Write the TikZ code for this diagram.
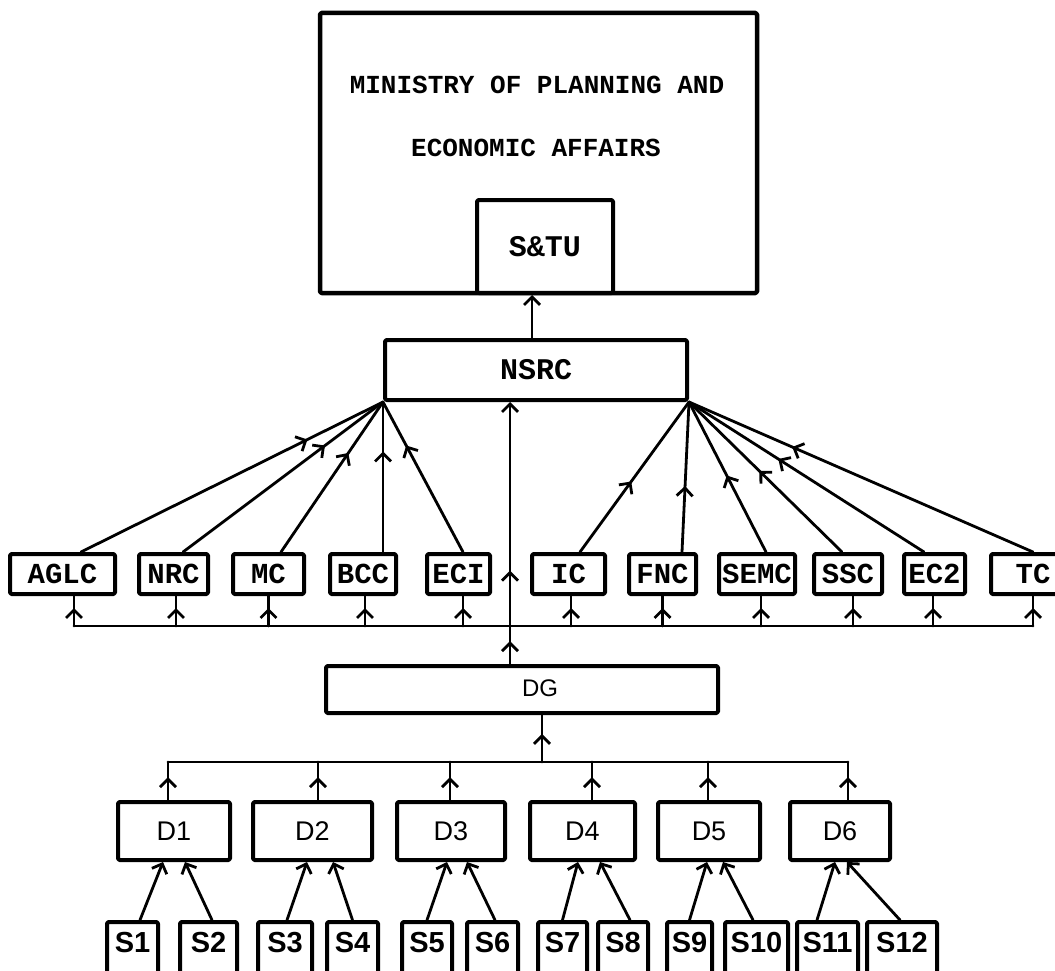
\documentclass[tikz,border=0pt]{standalone}
\usepackage{fontspec}
\setmonofont{Liberation Mono}
\newfontfamily\sansf{Liberation Sans}
\usetikzlibrary{arrows.meta,decorations.markings,calc}
\tikzset{
  >={Straight Barb[length=8pt,width=16pt]},
  box/.style={draw, line width=4pt, rounded corners=1.5pt, inner sep=0pt, line join=round},
  cbox/.style={box, minimum height=40pt, font=\ttfamily\bfseries\fontsize{29}{30}\selectfont},
  dbox/.style={box, minimum height=58pt, font=\sansf\fontsize{27}{28}\selectfont},
  sbox/.style={box, minimum height=70pt},
  stxt/.style={inner sep=0pt, font=\sansf\bfseries\fontsize{29}{30}\selectfont},
  mtxt/.style={inner sep=0pt, font=\ttfamily\bfseries\fontsize{26}{28}\selectfont},
  conn/.style={line width=2.8pt, line cap=round},
  midarr/.style={postaction={decorate,decoration={markings,mark=at position #1 with {\arrow{>}}}}}
}
\begin{document}
\begin{tikzpicture}[x=1pt,y=-1pt]
\useasboundingbox (0,0) rectangle (1055,971);
\clip (0,0) rectangle (1055,971);
% top
\node[box, line width=4.5pt, minimum width=437pt, minimum height=280pt] (min) at (538.5,153) {};
\node[mtxt] (m1) at (537,85) {MINISTRY OF PLANNING AND};
\node[mtxt] (m2) at (536,148) {ECONOMIC AFFAIRS};
\node[box, minimum width=136pt, minimum height=93pt, font=\ttfamily\bfseries\fontsize{30}{32}\selectfont] (stu) at (545,246.5) {S\&TU};
\node[box, minimum width=302pt, minimum height=60pt, font=\ttfamily\bfseries\fontsize{30}{32}\selectfont] (nsrc) at (536,370) {\raisebox{-5pt}{NSRC}};
\draw[conn,->] ([xshift=-4pt]nsrc.north) -- ([xshift=-4pt]nsrc.north |- stu.south);
% committees
\node[cbox, minimum width=105pt] (aglc) at (62.5,574) {AGLC};
\node[cbox, minimum width=69pt] (nrc) at (173.5,574) {NRC};
\node[cbox, minimum width=71pt] (mc) at (268.5,574) {MC};
\node[cbox, minimum width=66pt] (bcc) at (363,574) {BCC};
\node[cbox, minimum width=63pt] (eci) at (458.5,574) {ECI};
\node[cbox, minimum width=73pt] (ic) at (568.5,574) {IC};
\node[cbox, minimum width=67pt] (fnc) at (662.5,574) {FNC};
\node[cbox, minimum width=76pt] (semc) at (757,574) {SEMC};
\node[cbox, minimum width=68pt] (ssc) at (848,574) {SSC};
\node[cbox, minimum width=61pt] (ec2) at (934.5,574) {EC2};
\node[cbox, minimum width=84pt] (tc) at (1033,574) {TC};
% fans
\draw[conn,midarr=0.75] ([xshift=18.5pt]aglc.north) -- (nsrc.south west);
\draw[conn,midarr=0.71] ([xshift=9.5pt]nrc.north) -- (nsrc.south west);
\draw[conn,midarr=0.66] ([xshift=12.5pt]mc.north) -- (nsrc.south west);
\draw[conn,midarr=0.67] ([xshift=20pt]bcc.north) -- (nsrc.south west);
\draw[conn,midarr=0.71] ([xshift=4.5pt]eci.north) -- (nsrc.south west);
\draw[conn,midarr=0.47] ([xshift=11.5pt]ic.north) -- (nsrc.south east);
\draw[conn,midarr=0.44] ([xshift=19.5pt]fnc.north) -- (nsrc.south east);
\draw[conn,midarr=0.51] ([xshift=9pt]semc.north) -- (nsrc.south east);
\draw[conn,midarr=0.54] ([xshift=-6pt]ssc.north) -- (nsrc.south east);
\draw[conn,midarr=0.62] ([xshift=-10.5pt]ec2.north) -- (nsrc.south east);
\draw[conn,midarr=0.70] ([xshift=0pt]tc.north) -- (nsrc.south east);
% DG
\node[box, minimum width=392pt, minimum height=47pt, font=\sansf\fontsize{24}{25}\selectfont] (dg) at (522,689.5) {\hspace*{36pt}\raisebox{3pt}{DG}};
\coordinate (cbus) at (510,626);
\draw[conn,->,postaction={decorate,decoration={markings,
   mark=at position 0.087 with {\arrow{>}},
   mark=at position 0.356 with {\arrow{>}}}}]
   ([xshift=-12pt]dg.north) -- ([xshift=-12pt]dg.north |- nsrc.south);
\draw[conn] ([xshift=11.5pt]aglc.south |- cbus) -- (tc.south |- cbus);
\draw[conn,midarr=0.6] ([xshift=11.5pt]aglc.south |- cbus) -- ([xshift=11.5pt]aglc.south);
\draw[conn,midarr=0.6] ([xshift=2.5pt]nrc.south |- cbus) -- ([xshift=2.5pt]nrc.south);
\draw[conn,midarr=0.6] (mc.south |- cbus) -- (mc.south);
\draw[conn,midarr=0.6] ([xshift=2pt]bcc.south |- cbus) -- ([xshift=2pt]bcc.south);
\draw[conn,midarr=0.6] ([xshift=4.5pt]eci.south |- cbus) -- ([xshift=4.5pt]eci.south);
\draw[conn,midarr=0.6] ([xshift=2.5pt]ic.south |- cbus) -- ([xshift=2.5pt]ic.south);
\draw[conn,midarr=0.6] (fnc.south |- cbus) -- (fnc.south);
\draw[conn,midarr=0.6] ([xshift=4pt]semc.south |- cbus) -- ([xshift=4pt]semc.south);
\draw[conn,midarr=0.6] ([xshift=5pt]ssc.south |- cbus) -- ([xshift=5pt]ssc.south);
\draw[conn,midarr=0.6] ([xshift=-1.5pt]ec2.south |- cbus) -- ([xshift=-1.5pt]ec2.south);
\draw[conn,midarr=0.6] (tc.south |- cbus) -- (tc.south);
% D level
\node[dbox, minimum width=112pt] (d1) at (174,831) {\raisebox{-4pt}{D1}};
\node[dbox, minimum width=119pt] (d2) at (312.5,831) {\raisebox{-4pt}{D2}};
\node[dbox, minimum width=108pt] (d3) at (451,831) {\raisebox{-4pt}{D3}};
\node[dbox, minimum width=105pt] (d4) at (582.5,831) {\raisebox{-4pt}{D4}};
\node[dbox, minimum width=102pt] (d5) at (709,831) {\raisebox{-4pt}{D5}};
\node[dbox, minimum width=100pt] (d6) at (840,831) {\raisebox{-4pt}{D6}};
\coordinate (dbus) at (542,762);
\draw[conn,midarr=0.6] (dbus) -- (dbus |- dg.south);
\draw[conn] ([xshift=-6pt]d1.north |- dbus) -- ([xshift=8pt]d6.north |- dbus);
\draw[conn,midarr=0.6] ([xshift=-6pt]d1.north) -- ([xshift=-6pt]d1.north |- dbus);
\draw[conn,midarr=0.6] ([xshift=5.5pt]d2.north) -- ([xshift=5.5pt]d2.north |- dbus);
\draw[conn,midarr=0.6] ([xshift=-1pt]d3.north) -- ([xshift=-1pt]d3.north |- dbus);
\draw[conn,midarr=0.6] ([xshift=9.5pt]d4.north) -- ([xshift=9.5pt]d4.north |- dbus);
\draw[conn,midarr=0.6] ([xshift=-1pt]d5.north) -- ([xshift=-1pt]d5.north |- dbus);
\draw[conn,midarr=0.6] ([xshift=8pt]d6.north) -- ([xshift=8pt]d6.north |- dbus);
% S level
\node[sbox, minimum width=51pt] (s1) at (132.5,957) {};
\node[sbox, minimum width=57pt] (s2) at (208.5,957) {};
\node[sbox, minimum width=54pt] (s3) at (285,957) {};
\node[sbox, minimum width=51pt] (s4) at (352.5,957) {};
\node[sbox, minimum width=50pt] (s5) at (427,957) {};
\node[sbox, minimum width=51pt] (s6) at (492.5,957) {};
\node[sbox, minimum width=49pt] (s7) at (562.5,957) {};
\node[sbox, minimum width=50pt] (s8) at (623,957) {};
\node[sbox, minimum width=45pt] (s9) at (689.5,957) {};
\node[sbox, minimum width=63pt] (s10) at (756.5,957) {};
\node[sbox, minimum width=61pt] (s11) at (827.5,957) {};
\node[sbox, minimum width=70pt] (s12) at (902,957) {};
\node[stxt] (t1) at ([yshift=-23pt]s1.north) {S1};
\node[stxt] (t2) at ([yshift=-23pt]s2.north) {S2};
\node[stxt] (t3) at ([yshift=-23pt]s3.north) {S3};
\node[stxt] (t4) at ([yshift=-23pt]s4.north) {S4};
\node[stxt] (t5) at ([yshift=-23pt]s5.north) {S5};
\node[stxt] (t6) at ([yshift=-23pt]s6.north) {S6};
\node[stxt] (t7) at ([yshift=-23pt]s7.north) {S7};
\node[stxt] (t8) at ([yshift=-23pt]s8.north) {S8};
\node[stxt] (t9) at ([yshift=-23pt]s9.north) {S9};
\node[stxt] (t10) at ([yshift=-23pt]s10.north) {S10};
\node[stxt] (t11) at ([yshift=-23pt]s11.north) {S11};
\node[stxt] (t12) at ([yshift=-23pt]s12.north) {S12};
\draw[conn,->] ([xshift=7.5pt]s1.north) -- ([xshift=-11pt]d1.south);
\draw[conn,->] ([xshift=3.5pt]s2.north) -- ([xshift=11pt]d1.south);
\draw[conn,->] ([xshift=2pt]s3.north) -- ([xshift=-5.5pt]d2.south);
\draw[conn,->] (s4.north) -- ([xshift=20.5pt]d2.south);
\draw[conn,->] (s5.north) -- ([xshift=-4pt]d3.south);
\draw[conn,->] ([xshift=2.5pt]s6.north) -- ([xshift=16pt]d3.south);
\draw[conn,->] (s7.north) -- ([xshift=-4.5pt]d4.south);
\draw[conn,->] ([xshift=7pt]s8.north) -- ([xshift=17.5pt]d4.south);
\draw[conn,->] (s9.north) -- ([xshift=-2pt]d5.south);
\draw[conn,->] ([xshift=-3.5pt]s10.north) -- ([xshift=14pt]d5.south);
\draw[conn,->] ([xshift=-10.5pt]s11.north) -- ([xshift=-5pt]d6.south);
\draw[conn,->] ([xshift=-2pt]s12.north) -- ([xshift=7pt]d6.south);
\end{tikzpicture}
\end{document}
